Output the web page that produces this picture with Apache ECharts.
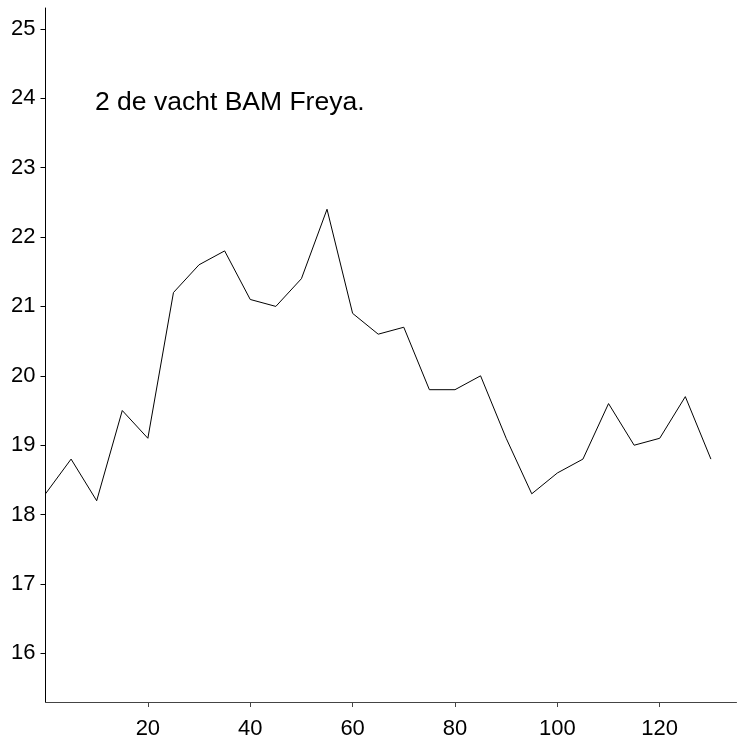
<!DOCTYPE html>
<html>
<head>
<meta charset="utf-8">
<script src="https://cdn.jsdelivr.net/npm/echarts@6/dist/echarts.min.js"></script>
<style>
html,body{margin:0;padding:0;background:#fff;}
#chart{width:745px;height:736px;}
</style>
</head>
<body>
<div id="chart"></div>
<script>
const xValues = [0,5,10,15,20,25,30,35,40,45,50,55,60,65,70,75,80,85,90,95,100,105,110,115,120,125,130];
const yValues = [18.3,18.8,18.2,19.5,19.1,21.2,21.6,21.8,21.1,21.0,21.4,22.4,20.9,20.6,20.7,19.8,19.8,20.0,19.1,18.3,18.6,18.8,19.6,19.0,19.1,19.7,18.8];
const xTicks = [20,40,60,80,100,120];
const yTicks = [16,17,18,19,20,21,22,23,24,25];
const annotation = '2 de vacht BAM Freya.';

const FONT = 'Helvetica, Arial, "Liberation Sans", sans-serif';
const chart = echarts.init(document.getElementById('chart'), null, {renderer:'canvas'});
chart.setOption({
  animation:false,
  backgroundColor:'#fff',
  title:{
    text: annotation,
    left: 90, top: 84,
    textStyle:{fontFamily:FONT, fontSize:26.5, fontWeight:'normal', color:'#000'}
  },
  grid:{left:45.5, right:8.5, top:8, bottom:34, containLabel:false, outerBoundsMode:'none'},
  xAxis:{
    type:'value', min:0, max:135,
    axisLine:{show:true, lineStyle:{color:'#444', width:1}},
    axisTick:{show:true, customValues:xTicks, length:5, inside:false, lineStyle:{color:'#444'}},
    axisLabel:{customValues:xTicks, margin:16, fontFamily:FONT, fontSize:22, color:'#000'},
    splitLine:{show:false}
  },
  yAxis:{
    type:'value', min:15.3, max:25.3,
    axisLine:{show:true, lineStyle:{color:'#000', width:1}},
    axisTick:{show:true, customValues:yTicks, length:5, inside:false, lineStyle:{color:'#000'}},
    axisLabel:{customValues:yTicks, margin:10, fontFamily:FONT, fontSize:22, color:'#000'},
    splitLine:{show:false}
  },
  series:[{
    type:'line',
    data: xValues.map((x,i)=>[x,yValues[i]]),
    showSymbol:false,
    symbol:'none',
    lineStyle:{color:'#000', width:1},
    itemStyle:{color:'#000'}
  }]
});
</script>
</body>
</html>
